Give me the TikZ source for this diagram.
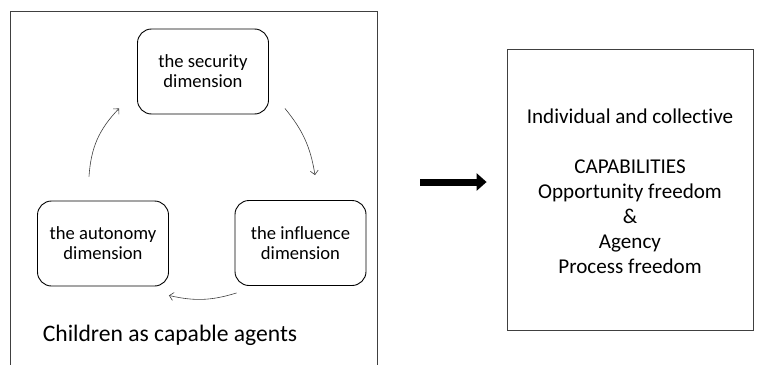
\documentclass[tikz,border=0pt]{standalone}
\usepackage{fontspec}
\setmainfont{Carlito}[Ligatures={NoCommon,NoContextual}]
\usepackage{tikz}
\usetikzlibrary{arrows.meta}

\newcommand{\dimfont}{\fontsize{18.6}{20}\selectfont}
\newcommand{\capfont}{\fontsize{21.1}{25}\selectfont}
\newcommand{\agentfont}{\fontsize{23.6}{25}\selectfont}

\tikzset{
  frame/.style={draw=black!75, line width=0.8pt},
  dimbox/.style={draw, line width=0.9pt, rounded corners=14pt, minimum width=131pt,
    minimum height=85pt, align=center, font=\dimfont},
  cyc/.style={-{Straight Barb[length=4pt,width=8pt]}, draw=black!75, line width=0.6pt},
  bigarrow/.style={-{Triangle[length=10pt,width=17pt]}, line width=7pt}
}

\begin{document}
\begin{tikzpicture}[x=1pt,y=-1pt]
  \useasboundingbox (0,0) rectangle (759,364);

  % the two frames
  \node[frame, minimum width=367pt, minimum height=357pt] (agents) at (193.5,189.5) {};
  \node[frame, minimum width=246pt, minimum height=281pt] (caps) at (630,189.5) {};

  \node[dimbox] (sec) at (203,71.5) {the security\\dimension};
  \node[dimbox] (aut) at (103,243.5) {the autonomy\\dimension};
  \node[dimbox] (inf) at (300.5,243) {the influence\\dimension};

  \node[font=\agentfont] (agentslabel) at (170,335) {Children as capable agents};
  \node[font=\capfont, align=center] (capstext) at (630,191)
    {Individual and collective\\[25pt]CAPABILITIES\\Opportunity freedom\\\&\\Agency\\Process freedom};

  % cycle
  \draw[cyc] ([xshift=-14pt,yshift=24pt]aut.north) to[bend left=20] ([xshift=-18pt,yshift=6pt]sec.south west);
  \draw[cyc] ([xshift=16pt,yshift=6pt]sec.south east) to[bend left=15] ([xshift=14.5pt,yshift=25pt]inf.north);
  \draw[cyc] ([xshift=2pt,yshift=-7pt]inf.south west) to[bend left=15] ([yshift=-9pt]aut.south east);

  \draw[bigarrow] ([xshift=43pt,yshift=7.5pt]agents.east) -- ([xshift=-20pt,yshift=7.5pt]caps.west);
\end{tikzpicture}
\end{document}
